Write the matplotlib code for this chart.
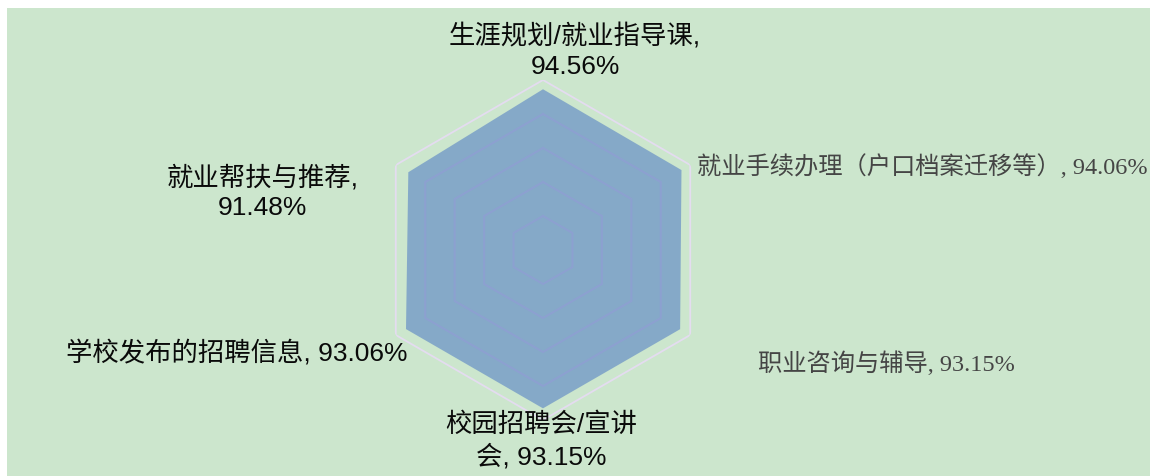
import numpy as np
import matplotlib.pyplot as plt
from matplotlib.patches import Rectangle

categories = ['生涯规划/就业指导课', '就业手续办理（户口档案迁移等）', '职业咨询与辅导',
              '校园招聘会/宣讲会', '学校发布的招聘信息', '就业帮扶与推荐']
values = [94.56, 94.06, 93.15, 93.15, 93.06, 91.48]
rings = [20, 40, 60, 80, 100]

# where each label wraps onto a second line (None = single line)
wrap_at = [11, None, None, 8, None, 8]
# label placement relative to the outer vertex, in pixels
offsets = [(32, 29), (7, -2), (68, -29), (-2, -21), (12, -18), (-133, -27)]
aligns = ['center', 'left', 'left', 'center', 'right', 'center']
gray_label = [False, True, True, False, False, False]

green = '#cce6cd'
fig = plt.figure(figsize=(11.5, 4.76), dpi=100)
fig.patch.set_facecolor('white')
bg = Rectangle((7 / 1150, 0), 1, 468 / 476, transform=fig.transFigure,
               facecolor=green, edgecolor='none', zorder=-10)
fig.add_artist(bg)

ax = fig.add_axes([373 / 1150, 56 / 476, 340 / 1150, 340 / 476], polar=True)
ax.set_zorder(1)
ax.set_theta_offset(np.pi / 2)
ax.set_theta_direction(-1)
ax.set_ylim(0, 100)
ax.axis('off')

angles = np.linspace(0, 2 * np.pi, len(categories), endpoint=False)
closed = np.append(angles, angles[0])

vals = np.append(values, values[0])
ax.fill(closed, vals, color='#6890c6', alpha=0.7, lw=0, zorder=2)

# hexagonal grid: outer ring shows on the background, inner ones faintly over the area
for r in rings:
    if r == max(rings):
        ax.plot(closed, [r] * len(closed), color='#e4dcf0', lw=1.3, zorder=1)
    else:
        ax.plot(closed, [r] * len(closed), color='#9a92e0', lw=1.5, alpha=0.35, zorder=3)

for i, (name, v) in enumerate(zip(categories, values)):
    text = f'{name}, {v:.2f}%'
    if wrap_at[i] is not None:
        text = text[:wrap_at[i]].rstrip() + '\n' + text[wrap_at[i]:].lstrip()
    if gray_label[i]:
        fam = ['Liberation Serif', 'Noto Sans CJK SC']
        size, col = 17.5, '#454545'
    else:
        fam = ['Liberation Sans', 'Noto Sans CJK SC']
        size, col = 19, '#0a0a0a'
    ax.annotate(text, xy=(angles[i], 100), xytext=offsets[i], textcoords='offset pixels',
                ha=aligns[i], va='center', multialignment='center',
                fontsize=size, color=col, family=fam, linespacing=1.3,
                annotation_clip=False, zorder=5)

plt.savefig('out.png', dpi=100, facecolor=fig.get_facecolor())
